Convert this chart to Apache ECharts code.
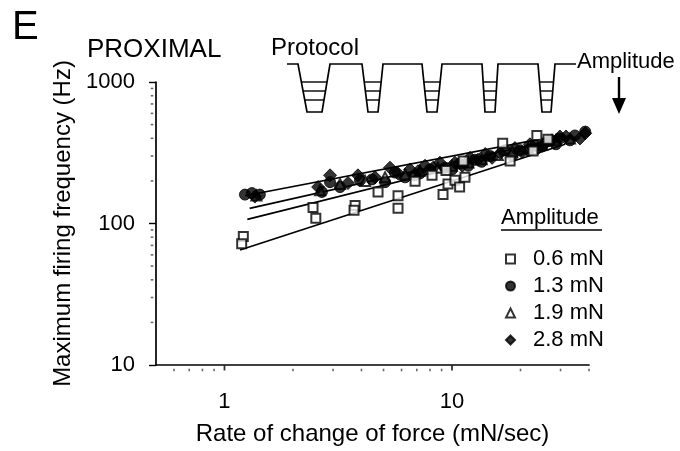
<!DOCTYPE html>
<html>
<head>
<meta charset="utf-8">
<script src="https://cdn.jsdelivr.net/npm/echarts@6/dist/echarts.min.js"></script>
<style>
  html, body { margin: 0; padding: 0; background: #fff; }
  #chart { width: 680px; height: 451px; }
</style>
</head>
<body>
<div id="chart"></div>
<script>
const FONT = '"Liberation Sans", Arial, Helvetica, sans-serif';

// Stimulus amplitudes (legend entries)
const amplitudes = ['0.6 mN', '1.3 mN', '1.9 mN', '2.8 mN'];

// Rate of change of force (mN/s) vs maximum firing frequency (Hz)
const amp06 = [[1.21, 81], [1.19, 72], [2.45, 130], [2.52, 109], [3.75, 134], [3.71, 124],
  [4.73, 167], [5.79, 157], [5.79, 128], [6.88, 199], [8.17, 219], [9.13, 160], [9.41, 237],
  [9.6, 190], [10.3, 202], [10.8, 181], [11.4, 212], [11.2, 277], [16.7, 369], [18.0, 277],
  [23.6, 419], [26.4, 394], [22.7, 325]];
const amp13 = [[1.23, 160], [1.32, 164], [1.43, 160], [2.68, 167], [2.91, 196], [3.22, 181],
  [3.94, 202], [4.45, 205], [5.08, 196], [5.61, 229], [6.22, 212], [6.87, 219], [7.23, 226],
  [8.0, 241], [9.31, 248], [10.0, 241], [10.8, 265], [11.8, 256], [12.6, 282], [13.5, 273],
  [14.7, 300], [17.1, 330], [18.4, 300], [19.9, 330], [21.6, 330], [23.2, 357], [24.9, 351],
  [26.4, 381], [28.6, 363], [29.8, 399], [33.0, 387], [34.7, 419], [38.5, 446]];
const amp19 = [[1.38, 158], [2.63, 172], [3.22, 190], [4.15, 200], [5.08, 212], [6.22, 222],
  [7.23, 236], [8.67, 248], [10.0, 256], [11.8, 270], [13.5, 285], [15.9, 305], [18.4, 322],
  [21.6, 340], [24.9, 360], [28.6, 387], [33.0, 399]];
const amp28 = [[1.36, 155], [2.58, 181], [2.91, 219], [3.49, 193], [3.86, 219], [4.59, 212],
  [5.34, 248], [5.79, 226], [6.54, 241], [7.09, 234], [7.61, 256], [8.26, 248], [8.85, 269],
  [10.3, 269], [11.1, 256], [12.0, 291], [13.0, 282], [14.0, 310], [15.0, 291], [16.3, 315],
  [18.9, 341], [20.3, 320], [22.0, 363], [23.9, 341], [25.7, 369], [27.5, 387], [29.8, 412],
  [31.7, 412], [36.5, 399], [38.5, 434]];

// Regression lines (end points) for each amplitude
const fit06 = [[1.17, 65], [31.4, 363]];
const fit13 = [[1.23, 157], [29.8, 419]];
const fit19 = [[1.29, 128], [29.8, 399]];
const fit28 = [[1.26, 107], [29.8, 381]];

// Axis tick values
const xTickLabels = [1, 10];
const yTickLabels = [10, 100, 1000];
const xMinorTicks = [0.6, 0.7, 0.8, 0.9, 2, 3, 4, 5, 6, 7, 8, 9, 20, 30, 40];
const yMinorTicks = [20, 30, 40, 50, 60, 70, 80, 90, 200, 300, 400, 500, 600, 700, 800, 900];

const X_MIN = 0.5, X_MAX = 40, Y_MIN = 10, Y_MAX = 1000;

const chart = echarts.init(document.getElementById('chart'), null, { renderer: 'canvas' });

function scatter(name, data, symbol, size, filled, z) {
  return {
    name, type: 'scatter', data, symbol, symbolSize: size, z,
    itemStyle: filled
      ? { color: '#000', borderColor: '#000', borderWidth: 1 }
      : { color: '#fff', borderColor: '#000', borderWidth: 2 },
    emphasis: { disabled: true }
  };
}
function fitLine(data) {
  return {
    type: 'line', data, symbol: 'none', z: 3, silent: true,
    lineStyle: { color: '#000', width: 1.7 }
  };
}

// Protocol schematic: baseline with trapezoidal force steps
const wells = [[298, 330, 307, 322], [362, 383, 368, 378], [422, 442, 427, 437],
  [482, 498, 485, 495], [538, 555, 542, 551]];
const baseY = 64, floorY = 112, stepYs = [82, 91, 100];
const protoGraphics = [];
{
  const pts = [[287, baseY]];
  wells.forEach(w => {
    pts.push([w[0], baseY], [w[2], floorY], [w[3], floorY], [w[1], baseY]);
  });
  pts.push([576, baseY]);
  protoGraphics.push({ type: 'polyline', shape: { points: pts },
    style: { stroke: '#000', lineWidth: 1.7, fill: null }, silent: true });
  wells.forEach(w => {
    stepYs.forEach(y => {
      const t = (y - baseY) / (floorY - baseY);
      const xl = w[0] + (w[2] - w[0]) * t, xr = w[1] + (w[3] - w[1]) * t;
      protoGraphics.push({ type: 'line', shape: { x1: xl, y1: y, x2: xr, y2: y },
        style: { stroke: '#000', lineWidth: 1.4 }, silent: true });
    });
  });
  // downward arrow under "Amplitude"
  protoGraphics.push({ type: 'line', shape: { x1: 619, y1: 77, x2: 619, y2: 100 },
    style: { stroke: '#000', lineWidth: 2.4 }, silent: true });
  protoGraphics.push({ type: 'polygon', shape: { points: [[612, 98], [626, 98], [619, 114]] },
    style: { fill: '#000' }, silent: true });
}

const option = {
  backgroundColor: '#fff',
  animation: false,
  textStyle: { fontFamily: FONT, color: '#000' },
  grid: { left: 156, right: 91, top: 82, bottom: 78, containLabel: false },
  xAxis: {
    type: 'log', logBase: 10, min: X_MIN, max: X_MAX,
    name: 'Rate of change of force (mN/sec)', nameLocation: 'middle', nameGap: 57,
    nameTextStyle: { fontSize: 24, fontFamily: FONT, color: '#000' },
    axisLine: { lineStyle: { color: '#000', width: 1.7 } },
    axisTick: { show: false },
    axisLabel: {
      fontSize: 22, fontFamily: FONT, color: '#000', margin: 26,
      showMinLabel: false, showMaxLabel: false,
      formatter: v => (xTickLabels.some(t => Math.abs(t - v) < 1e-6 * t) ? String(v) : '')
    },
    splitLine: { show: false }
  },
  yAxis: {
    type: 'log', logBase: 10, min: Y_MIN, max: Y_MAX,
    name: 'Maximum firing frequency (Hz)', nameLocation: 'middle', nameGap: 79, nameRotate: 90,
    nameTextStyle: { fontSize: 24, fontFamily: FONT, color: '#000' },
    axisLine: { lineStyle: { color: '#000', width: 1.7 } },
    axisTick: { show: true, length: 7, lineStyle: { color: '#000', width: 1.4 } },
    axisLabel: {
      fontSize: 22, fontFamily: FONT, color: '#000', margin: 21,
      formatter: v => (yTickLabels.some(t => Math.abs(t - v) < 1e-6 * t) ? String(v) : '')
    },
    splitLine: { show: false }
  },
  legend: {
    orient: 'vertical', left: 500, top: 243, itemGap: 5,
    itemWidth: 9, itemHeight: 9, selectedMode: false,
    data: amplitudes,
    textStyle: { fontSize: 22, fontFamily: FONT, color: '#000', lineHeight: 22, padding: [0, 0, 0, 13] }
  },
  graphic: [
    { type: 'text', left: 12, top: 8, style: { text: 'E', font: '40px ' + FONT, fill: '#000' } },
    { type: 'text', left: 87, top: 37, style: { text: 'PROXIMAL', font: '26px ' + FONT, fill: '#000' } },
    { type: 'text', left: 271, top: 36, style: { text: 'Protocol', font: '24px ' + FONT, fill: '#000' } },
    { type: 'text', left: 577, top: 51, style: { text: 'Amplitude', font: '22px ' + FONT, fill: '#000' } },
    { type: 'text', left: 501, top: 207, style: { text: 'Amplitude', font: '22px ' + FONT, fill: '#000' } },
    { type: 'line', shape: { x1: 501, y1: 230, x2: 602, y2: 230 }, style: { stroke: '#000', lineWidth: 1.7 } }
  ].concat(protoGraphics),
  series: [
    // minor tick dots along both axes
    { type: 'scatter', silent: true, z: 1, clip: false, symbol: 'rect', symbolSize: [1.6, 2.6],
      symbolOffset: [0, 5], itemStyle: { color: '#444' },
      data: xMinorTicks.map(v => [v, Y_MIN]) },
    { type: 'scatter', silent: true, z: 1, clip: false, symbol: 'rect', symbolSize: [2.6, 1.6],
      symbolOffset: [-4, 0], itemStyle: { color: '#444' },
      data: yMinorTicks.map(v => [X_MIN, v]) },
    { type: 'scatter', silent: true, z: 1, clip: false, symbol: 'rect', symbolSize: [1.8, 5],
      symbolOffset: [0, 3], itemStyle: { color: '#000' },
      data: xTickLabels.map(v => [v, Y_MIN]) },
    fitLine(fit06), fitLine(fit13), fitLine(fit19), fitLine(fit28),
    scatter(amplitudes[2], amp19, 'triangle', 10, false, 4),
    scatter(amplitudes[1], amp13, 'circle', 11, true, 5),
    scatter(amplitudes[3], amp28, 'diamond', 13, true, 5),
    scatter(amplitudes[0], amp06, 'rect', 9, false, 6)
  ]
};
chart.setOption(option);
</script>
</body>
</html>
